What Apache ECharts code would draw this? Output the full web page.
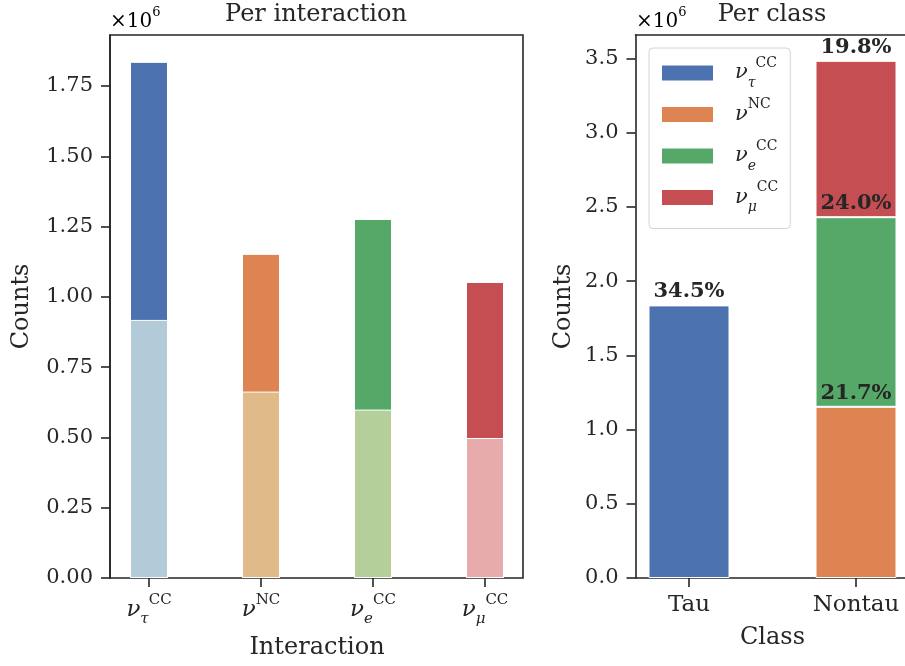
<!DOCTYPE html>
<html>
<head>
<meta charset="utf-8">
<script src="https://cdn.jsdelivr.net/npm/echarts@6/dist/echarts.min.js"></script>
<style>
html,body{margin:0;padding:0;background:#fff;}
#chart{width:905px;height:666px;}
</style>
</head>
<body>
<div id="chart"></div>
<script>
// ---- data (counts in units of 1e6) ----
const interactions = ['nutau', 'nc', 'nue', 'numu'];
const interactionLabels = ['{nu|ν}{sub|τ}{sup|CC}', '{nu|ν}{sup|NC}', '{nu|ν}{sub|e}{sup|CC}', '{nu|ν}{sub|μ}{sup|CC}'];
const totals = [1.836, 1.153, 1.277, 1.053];
const lightPart = [0.918, 0.663, 0.599, 0.498];
const classes = ['Tau', 'Nontau'];
const classOf = [0, 1, 1, 1];
const leftTicks = [0, 0.25, 0.5, 0.75, 1.0, 1.25, 1.5, 1.75];
const rightTicks = [0, 0.5, 1.0, 1.5, 2.0, 2.5, 3.0, 3.5];

const darkColors = ['#4C72B0', '#DD8452', '#55A868', '#C44E52'];
const lightColors = ['#B3CAD8', '#E1BA8A', '#B5CF9B', '#E8ABAB'];
const TXT = '#262626';
const FONT = 'DejaVu Serif';

const grand = totals.reduce((a, b) => a + b, 0);
const leftMax = Math.max(...totals) * 1.052;
const classTotals = classes.map((c, ci) => totals.reduce((s, v, i) => s + (classOf[i] === ci ? v : 0), 0));
const rightMax = Math.max(...classTotals) * 1.05;

const mathRich = {
  nu: {fontFamily: FONT, fontStyle: 'italic', fontSize: 23, color: TXT, lineHeight: 34, height: 34, verticalAlign: 'middle'},
  sup: {fontFamily: FONT, fontSize: 15, color: TXT, lineHeight: 15, verticalAlign: 'top'},
  sub: {fontFamily: FONT, fontStyle: 'italic', fontSize: 15, color: TXT, lineHeight: 15, verticalAlign: 'bottom'}
};
const legendRich = {
  nu: Object.assign({}, mathRich.nu, {fontSize: 21, padding: [0, 0, 0, 16]}),
  sup: Object.assign({}, mathRich.sup, {fontSize: 14}),
  sub: Object.assign({}, mathRich.sub, {fontSize: 14})
};

const chart = echarts.init(document.getElementById('chart'), null, {renderer: 'canvas'});

const spine = {show: true, lineStyle: {color: TXT, width: 1.6}};
const yFrame = (gi, max, ticks, dec, name, gap) => ({
  type: 'value', gridIndex: gi, min: 0, max: max,
  axisLine: spine,
  axisTick: {show: true, length: 9, lineStyle: {color: TXT, width: 1.6}, customValues: ticks},
  axisLabel: {show: true, margin: 17, fontFamily: FONT, fontSize: 21, color: TXT,
    customValues: ticks, formatter: v => Number(v).toFixed(dec)},
  splitLine: {show: false},
  name: name, nameLocation: 'middle', nameGap: gap, nameRotate: 90,
  nameTextStyle: {fontFamily: FONT, fontSize: 24, color: TXT}
});
const yHidden = (gi, max) => ({type: 'value', gridIndex: gi, min: 0, max: max, show: false, splitLine: {show: false}});
const xSpine = (gi, pos) => ({type: 'value', gridIndex: gi, position: pos, min: 0, max: 1,
  axisLine: spine, axisTick: {show: false}, axisLabel: {show: false}, splitLine: {show: false}});

const interactionIndex = {};
interactions.forEach((k, i) => interactionIndex[k] = i);

const rightSeries = interactions.map((k, i) => ({
  name: k, type: 'bar', xAxisIndex: 3, yAxisIndex: 3, stack: 'cls', barWidth: 81,
  data: classes.map((c, ci) => classOf[i] === ci ? totals[i] : '-'),
  itemStyle: {color: darkColors[i], borderColor: '#fff', borderWidth: 1},
  label: {show: true, position: 'top', distance: 3, fontFamily: FONT, fontWeight: 'bold', fontSize: 21, color: TXT,
    formatter: p => (p.value / grand * 100).toFixed(1) + '%'},
  emphasis: {disabled: true}
}));

const option = {
  animation: false,
  backgroundColor: '#fff',
  grid: [
    {left: 110, top: 35, width: 413, height: 543, show: true, borderColor: TXT, borderWidth: 1.6},
    {left: 93, top: 35, width: 448, height: 543},
    {left: 635.5, top: 35, right: 0, height: 543},
    {left: 689, top: 35, width: 167, height: 543}
  ],
  xAxis: [
    {type: 'value', gridIndex: 0, min: 0, max: 1, show: false},
    {type: 'category', gridIndex: 1, data: interactions,
      axisLine: {show: false},
      axisTick: {show: true, alignWithLabel: true, length: 9, lineStyle: {color: TXT, width: 1.6}},
      axisLabel: {interval: 0, margin: 15, formatter: (v, i) => interactionLabels[i], rich: mathRich},
      name: 'Interaction', nameLocation: 'middle', nameGap: 58,
      nameTextStyle: {fontFamily: FONT, fontSize: 24, color: TXT}},
    xSpine(2, 'bottom'),
    {type: 'category', gridIndex: 3, data: classes, boundaryGap: false,
      axisLine: {show: false},
      axisTick: {show: true, length: 9, lineStyle: {color: TXT, width: 1.6}},
      axisLabel: {interval: 0, margin: 16, fontFamily: FONT, fontSize: 23, color: TXT},
      name: 'Class', nameLocation: 'middle', nameGap: 48,
      nameTextStyle: {fontFamily: FONT, fontSize: 24, color: TXT}},
    xSpine(2, 'top')
  ],
  yAxis: [
    yFrame(0, leftMax, leftTicks, 2, 'Counts', 76),
    yHidden(1, leftMax),
    yFrame(2, rightMax, rightTicks, 1, 'Counts', 60),
    yHidden(3, rightMax)
  ],
  legend: {
    show: true, data: interactions, orient: 'vertical', left: 649, top: 48,
    padding: [8, 12, 14, 11], itemGap: 7.5, itemWidth: 53, itemHeight: 17,
    icon: 'rect', borderColor: '#d4d4d4', borderWidth: 1, borderRadius: 4,
    backgroundColor: 'rgba(255,255,255,0.85)',
    selectedMode: false,
    formatter: name => interactionLabels[interactionIndex[name]],
    textStyle: {rich: legendRich, height: 34, lineHeight: 34}
  },
  graphic: [
    {type: 'text', x: 316, y: 3, style: {text: 'Per interaction', fontFamily: FONT, fontSize: 24, fill: TXT, align: 'center'}},
    {type: 'text', x: 772, y: 3, style: {text: 'Per class', fontFamily: FONT, fontSize: 24, fill: TXT, align: 'center'}},
    {type: 'text', x: 110, y: 6, style: {text: '{a|×10}{b|6}', rich: {a: {fontFamily: FONT, fontSize: 20, color: TXT, lineHeight: 26, verticalAlign: 'bottom'}, b: {fontFamily: FONT, fontSize: 13, color: TXT, lineHeight: 26, verticalAlign: 'top'}}}},
    {type: 'text', x: 636, y: 6, style: {text: '{a|×10}{b|6}', rich: {a: {fontFamily: FONT, fontSize: 20, color: TXT, lineHeight: 26, verticalAlign: 'bottom'}, b: {fontFamily: FONT, fontSize: 13, color: TXT, lineHeight: 26, verticalAlign: 'top'}}}}
  ],
  series: [
    {name: 'left_total', type: 'bar', xAxisIndex: 1, yAxisIndex: 1, barWidth: 38,
      data: totals,
      itemStyle: {color: p => darkColors[p.dataIndex], borderColor: '#fff', borderWidth: 1},
      emphasis: {disabled: true}},
    {name: 'left_light', type: 'bar', xAxisIndex: 1, yAxisIndex: 1, barWidth: 38, barGap: '-100%',
      data: lightPart,
      itemStyle: {color: p => lightColors[p.dataIndex], borderColor: '#fff', borderWidth: 1},
      emphasis: {disabled: true}}
  ].concat(rightSeries)
};
chart.setOption(option);
</script>
</body>
</html>
